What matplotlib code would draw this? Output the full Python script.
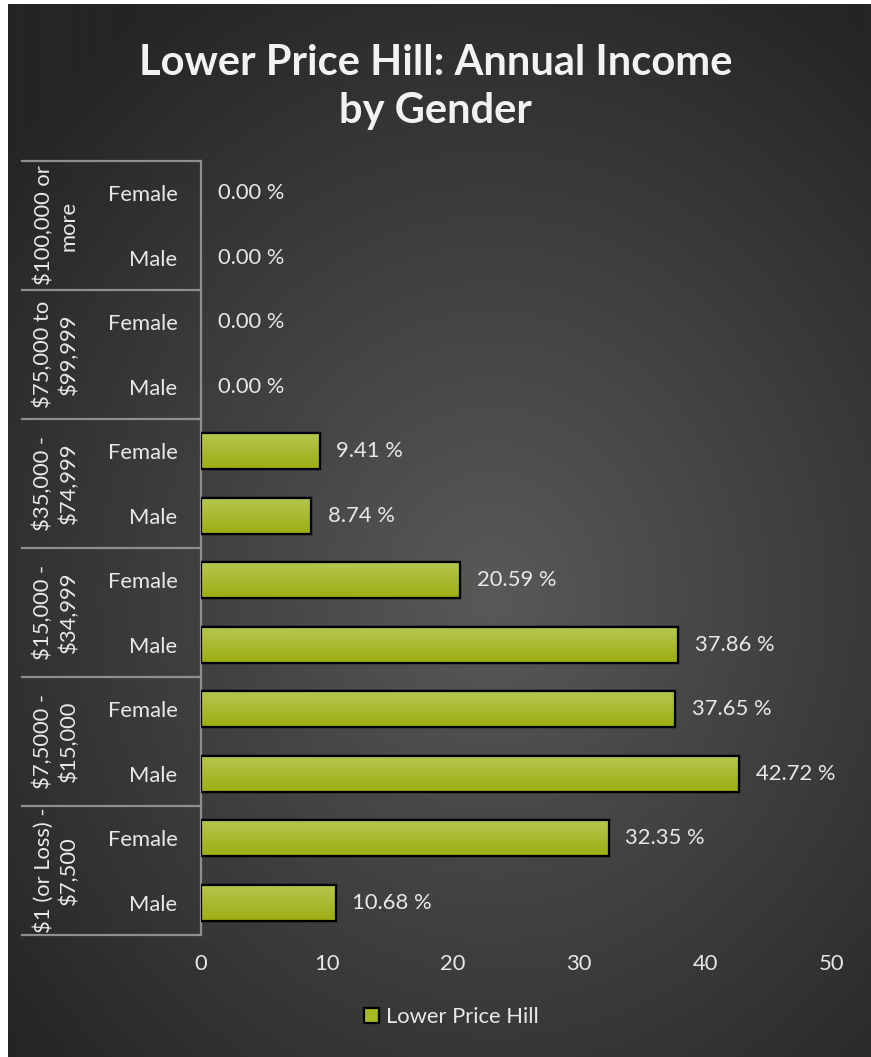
import matplotlib
matplotlib.use("Agg")
import matplotlib.pyplot as plt
import numpy as np
from matplotlib.transforms import blended_transform_factory
from matplotlib.lines import Line2D
from matplotlib.patches import Patch, Rectangle

plt.rcParams['text.parse_math'] = False
plt.rcParams['font.family'] = ['Lato', 'DejaVu Sans']

# ---- data ----
title = "Lower Price Hill: Annual Income\nby Gender"
groups = ["$100,000 or\nmore", "$75,000 to\n$99,999", "$35,000 -\n$74,999",
          "$15,000 -\n$34,999", "$7,5000 -\n$15,000", "$1 (or Loss) -\n$7,500"]
genders = ["Female", "Male"]
values = [0.00, 0.00, 0.00, 0.00, 9.41, 8.74, 20.59, 37.86, 37.65, 42.72, 32.35, 10.68]
series_name = "Lower Price Hill"
xticks = [0, 10, 20, 30, 40, 50]

W, H = 871, 1057
FS = 15.8
fig = plt.figure(figsize=(W / 100, H / 100), dpi=100)
fig.patch.set_facecolor("white")

# background radial gradient (chart area)
bx0, by0 = 8, 4
bg = fig.add_axes([bx0 / W, 0, (W - bx0) / W, (H - by0) / H], zorder=-5)
bg.set_axis_off()
yy, xx = np.mgrid[0:H - by0, 0:W - bx0]
cx, cy = 0.56 * (W - bx0), 0.56 * (H - by0)
d = np.sqrt(((xx - cx) / 620.0) ** 2 + ((yy - cy) / 700.0) ** 2)
d = np.clip(d, 0, 1)
inner = np.array([0x59, 0x59, 0x59]) / 255
outer = np.array([0x25, 0x25, 0x25]) / 255
img = inner[None, None, :] + (outer - inner)[None, None, :] * d[..., None]
bg.imshow(img, aspect='auto', extent=[0, 1, 0, 1], origin='upper')
bg.set_xlim(0, 1)
bg.set_ylim(0, 1)

# main axes
L, R, T, B = 201, 831, 161, 935
ax = fig.add_axes([L / W, 1 - B / H, (R - L) / W, (B - T) / H])
ax.set_facecolor("none")

labels = [g for _ in groups for g in genders]
ypos = np.arange(len(values))
bars = ax.barh(ypos, values, height=0.56, color="#a8ba22", edgecolor="black",
               linewidth=1.6, zorder=3)

# gradient fill for bars (lighter on top)
grad = np.linspace(0, 1, 64)[:, None]
top_c = np.array([0xb6, 0xc7, 0x52]) / 255
bot_c = np.array([0x9c, 0xad, 0x12]) / 255
gimg = top_c[None, None, :] + (bot_c - top_c)[None, None, :] * grad[..., None]
for b in bars:
    x0, y0 = b.get_x(), b.get_y()
    w, h = b.get_width(), b.get_height()
    if w <= 0:
        b.set_visible(False)
        continue
    ax.imshow(gimg, extent=[x0, x0 + w, y0 + h, y0], aspect='auto', zorder=3.5,
              origin='upper')
    ax.add_patch(Rectangle((x0, y0), w, h, facecolor='none', edgecolor='black',
                           linewidth=1.6, zorder=4))

ax.set_xlim(0, 50)
ax.set_ylim(len(values) - 0.5, -0.5)
ax.set_xticks(xticks)
ax.set_xticklabels([str(t) for t in xticks])
ax.set_yticks(ypos)
ax.set_yticklabels(labels)
txtc = "#e8e8e8"
ax.tick_params(axis='both', length=0, colors=txtc, labelsize=FS)
ax.tick_params(axis='y', pad=17)
ax.tick_params(axis='x', pad=14)
for s in ['top', 'right', 'bottom']:
    ax.spines[s].set_visible(False)
ax.spines['left'].set_color("#8f8f8f")
ax.spines['left'].set_linewidth(1.6)

# data labels
for v, y in zip(values, ypos):
    ax.annotate(f"{v:.2f} %", (v, y), xytext=(12, 0), textcoords='offset points',
                va='center', ha='left', color=txtc, fontsize=FS)

# multi-level category axis
tr = blended_transform_factory(fig.transFigure, ax.transData)
for i, g in enumerate(groups):
    yc = 2 * i + 0.5
    ax.text(56 / W, yc, g, transform=tr, rotation=90, ha='center', va='center',
            multialignment='center', color=txtc, fontsize=FS, clip_on=False,
            linespacing=1.3)
for k in range(len(groups) + 1):
    yb = 2 * k - 0.5
    ax.add_line(Line2D([22 / W, L / W], [yb, yb], transform=tr, color="#8f8f8f",
                       linewidth=1.6, clip_on=False))

# title
fig.text(0.5, 1 - 87 / H, title, ha='center', va='center', color="#f2f2f2",
         fontsize=30, fontweight='bold', linespacing=1.3)

# legend
h = Patch(facecolor="#a8ba22", edgecolor="black", linewidth=1.6)
leg = fig.legend([h], [series_name], loc='center',
                 bbox_to_anchor=(451 / W, 1 - 1017 / H), frameon=False,
                 fontsize=FS, handlelength=0.7, handleheight=0.7,
                 handletextpad=0.3, labelcolor=txtc)

fig.savefig("out.png", dpi=100, facecolor=fig.get_facecolor())
